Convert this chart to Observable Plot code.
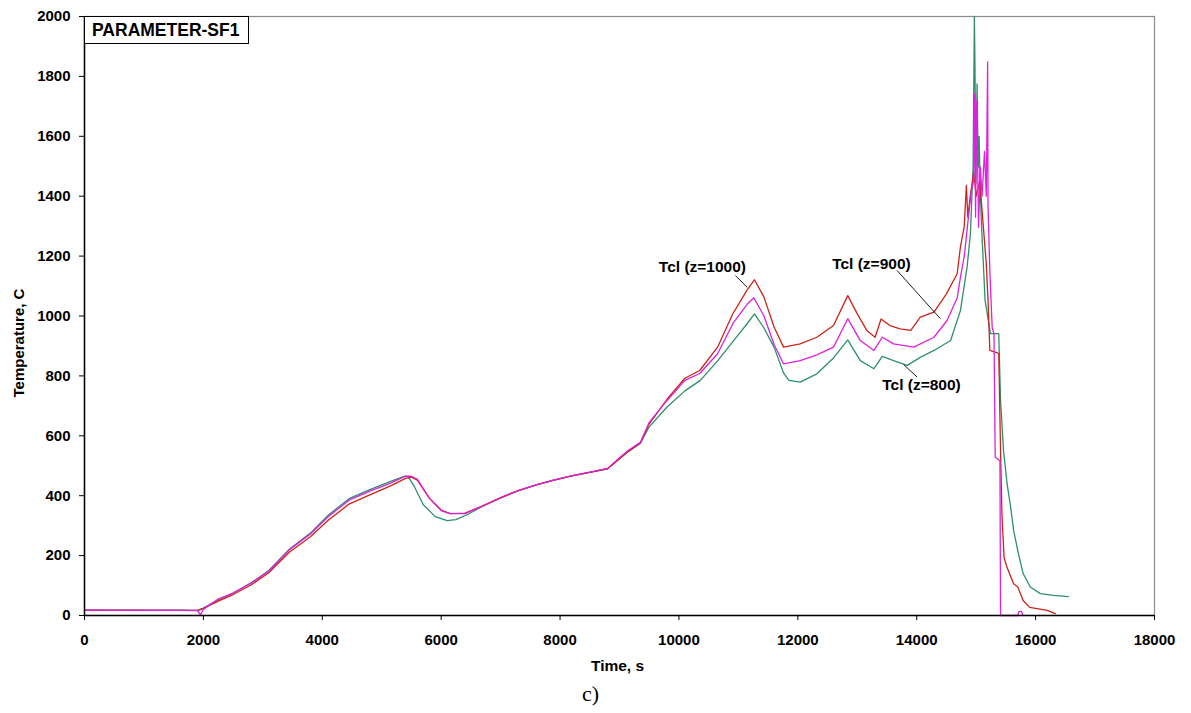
<!DOCTYPE html>
<html>
<head>
<meta charset="utf-8">
<script src="https://cdn.jsdelivr.net/npm/d3@7"></script>
<script src="https://cdn.jsdelivr.net/npm/@observablehq/plot@0.6"></script>
<style>
  html, body { margin: 0; padding: 0; background: #fff; }
  #chart { position: relative; width: 1191px; height: 713px; }
  #tag {
    position: absolute; left: 84px; top: 16px; width: 165px; height: 28px;
    border: 1px solid #000; background: #fff; box-sizing: border-box;
    font: bold 17.5px "Liberation Sans", Arial, sans-serif; line-height: 26px;
    padding-left: 7px;
  }
  #ylabel {
    position: absolute; left: 18px; top: 343px; white-space: nowrap;
    transform: translate(-50%, -50%) rotate(-90deg);
    font: bold 15px "Liberation Sans", Arial, sans-serif; color: #000;
  }
</style>
</head>
<body>
<div id="chart">
  <div id="tag">PARAMETER-SF1</div>
  <div id="ylabel">Temperature, C</div>
</div>
<script>
// Cladding temperature records [time s, temperature C] at three elevations
const tclZ1000 = [
  [0,18],[400,17],[800,18],[1200,17],[1600,17],[1900,16],[2000,24],[2250,48],[2500,70],
  [2800,102],[3100,143],[3450,212],[3800,263],[4100,318],[4450,372],[4800,403],[5150,433],
  [5400,458],[5500,462],[5600,452],[5800,392],[6000,352],[6150,340],[6400,342],[6700,366],
  [7000,393],[7300,417],[7600,436],[7900,452],[8200,466],[8500,478],[8800,490],[8950,515],
  [9150,548],[9350,575],[9500,640],[9800,722],[10100,792],[10350,818],[10650,896],[10900,1005],
  [11150,1088],[11270,1121],[11430,1063],[11600,963],[11760,896],[12040,907],[12320,929],
  [12600,968],[12840,1068],[13000,1007],[13160,952],[13300,929],[13400,990],[13550,968],
  [13720,957],[13900,952],[14060,996],[14290,1013],[14500,1074],[14680,1141],[14735,1230],
  [14800,1300],[14835,1436],[14860,1330],[14900,1400],[14960,1480],[15000,1400],[15060,1450],
  [15120,1300],[15170,1175],[15200,1050],[15230,885],[15380,875],[15410,551],[15435,328],
  [15470,193],[15520,160],[15630,106],[15700,95],[15790,50],[15900,27],[16200,17],[16330,6]
];
const tclZ900 = [
  [0,18],[400,18],[800,17],[1200,18],[1600,17],[1900,17],[1950,2],[2000,20],[2100,35],
  [2250,55],[2500,75],[2800,108],[3100,148],[3450,220],[3800,272],[4100,330],[4450,385],
  [4800,415],[5150,442],[5400,465],[5500,465],[5600,455],[5800,392],[6000,350],[6150,340],
  [6400,340],[6700,366],[7000,394],[7300,418],[7600,436],[7900,453],[8200,467],[8500,479],
  [8800,491],[8950,518],[9150,552],[9350,578],[9500,645],[9800,718],[10100,785],[10350,808],
  [10650,874],[10920,979],[11150,1040],[11260,1061],[11430,1000],[11600,905],[11760,840],
  [12040,851],[12320,870],[12600,896],[12840,991],[13050,918],[13280,885],[13420,929],
  [13610,907],[13950,896],[14290,929],[14510,985],[14680,1060],[14735,1129],[14800,1200],
  [14870,1330],[14920,1420],[14958,1452],[14975,1742],[14990,1330],[15010,1720],[15040,1296],
  [15070,1497],[15100,1400],[15140,1550],[15170,1400],[15193,1848],[15200,1363],[15230,1150],
  [15270,960],[15300,941],[15320,529],[15400,517],[15410,0],[15700,0],[15720,14],[15760,14],
  [15780,3]
];
const tclZ800 = [
  [0,18],[400,18],[800,18],[1200,17],[1600,18],[1900,17],[2000,25],[2250,52],[2500,75],
  [2800,108],[3100,150],[3450,222],[3800,275],[4100,335],[4450,390],[4800,420],[5150,448],
  [5400,466],[5450,462],[5550,430],[5700,370],[5900,330],[6100,317],[6250,320],[6450,338],
  [6700,365],[7000,393],[7300,417],[7600,436],[7900,452],[8200,466],[8500,478],[8800,490],
  [8950,515],[9150,548],[9350,575],[9500,630],[9800,696],[10100,750],[10360,785],[10650,850],
  [10920,918],[11150,975],[11270,1007],[11430,960],[11600,896],[11760,810],[11850,785],
  [12040,779],[12320,807],[12600,860],[12840,920],[13050,851],[13280,824],[13420,865],
  [13610,851],[13840,835],[14060,862],[14290,885],[14570,918],[14735,1018],[14847,1163],
  [14903,1274],[14948,1497],[14970,2000],[14980,1831],[14995,1442],[15015,1775],[15035,1497],
  [15050,1600],[15065,1450],[15090,1300],[15110,1220],[15150,1052],[15240,941],[15380,941],
  [15410,718],[15460,551],[15520,440],[15580,362],[15630,284],[15710,207],[15790,140],
  [15910,95],[16080,73],[16300,67],[16550,63]
];

// Axis ticks
const timeTicks = [0, 2000, 4000, 6000, 8000, 10000, 12000, 14000, 16000, 18000];
const tempTicks = [0, 200, 400, 600, 800, 1000, 1200, 1400, 1600, 1800, 2000];

// Curve labels with their leader lines
const labelText = ["Tcl (z=1000)", "Tcl (z=900)", "Tcl (z=800)"];
const labelAt = [[10395, 1165], [13238, 1172], [14080, 768]];
const leaderFrom = [[10950, 1135], [13669, 1152], [13780, 838]];
const leaderTo = [[11147, 1096], [14398, 991], [14006, 796]];

const toRows = (pairs) => pairs.map(([t, T]) => ({t, T}));
const labels = labelText.map((text, i) => ({text, t: labelAt[i][0], T: labelAt[i][1]}));
const leaders = leaderFrom.map((a, i) => ({t1: a[0], T1: a[1], t2: leaderTo[i][0], T2: leaderTo[i][1]}));

const RED = "#cc2418", MAGENTA = "#dd22dd", GREEN = "#2f8f6c";
const sans = "'Liberation Sans', Arial, Helvetica, sans-serif";

const plot = Plot.plot({
  width: 1191,
  height: 713,
  marginLeft: 84,
  marginRight: 37,
  marginTop: 16,
  marginBottom: 98,
  style: {fontFamily: sans, fontSize: "15px", fontWeight: "bold", color: "#000", background: "#fff"},
  x: {domain: [0, 18000]},
  y: {domain: [0, 2000]},
  marks: [
    Plot.frame({stroke: "#8a8a8a", strokeWidth: 1.2}),
    Plot.line(toRows(tclZ800), {x: "t", y: "T", stroke: GREEN, strokeWidth: 1.3}),
    Plot.line(toRows(tclZ1000), {x: "t", y: "T", stroke: RED, strokeWidth: 1.3}),
    Plot.line(toRows(tclZ900), {x: "t", y: "T", stroke: MAGENTA, strokeWidth: 1.3}),
    Plot.ruleY([0], {stroke: "#000", strokeWidth: 1.5}),
    Plot.ruleX([0], {stroke: "#000", strokeWidth: 1.5}),
    Plot.axisX({ticks: timeTicks, tickSize: 5, tickPadding: 14, tickFormat: d => String(d), label: null, fontSize: 15}),
    Plot.axisY({ticks: tempTicks, tickSize: 5, tickPadding: 9, tickFormat: d => String(d), label: null, fontSize: 15}),
    Plot.link(leaders, {x1: "t1", y1: "T1", x2: "t2", y2: "T2", stroke: "#000", strokeWidth: 0.9}),
    Plot.text(labels, {x: "t", y: "T", text: "text", fontSize: 15.5, fontWeight: "bold", fill: "#000"}),
    Plot.text(["Time, s"], {frameAnchor: "bottom", dx: -2, dy: 55, fontSize: 15.5, fontWeight: "bold"}),
    Plot.text(["c)"], {frameAnchor: "bottom", dx: -29, dy: 85, fontSize: 22, fontWeight: "normal", fontFamily: "'Liberation Serif', 'Times New Roman', serif"})
  ]
});
document.getElementById("chart").prepend(plot);
</script>
</body>
</html>
